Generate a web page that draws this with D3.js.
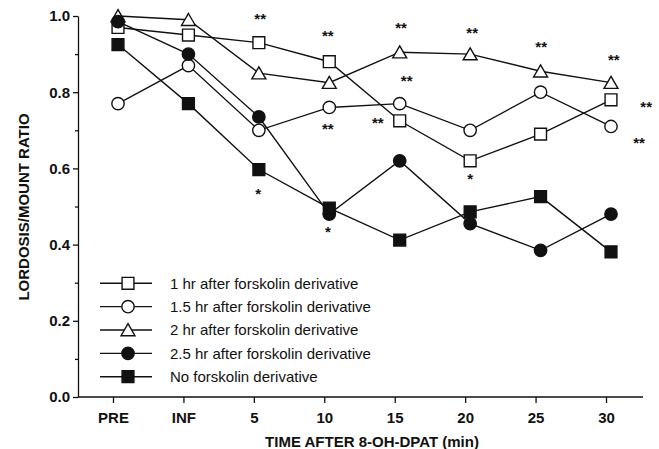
<!DOCTYPE html>
<html>
<head>
<meta charset="utf-8">
<script src="https://cdn.jsdelivr.net/npm/d3@7"></script>
<style>
  body { margin: 0; background: #fff; }
  text { font-family: "Liberation Sans", Arial, Helvetica, sans-serif; fill: #111; }
</style>
</head>
<body>
<div id="container"></div>
<script>
// ******* Data *******
var categories = ["PRE", "INF", "5", "10", "15", "20", "25", "30"];
var oneHr = [0.97, 0.95, 0.93, 0.88, 0.725, 0.62, 0.69, 0.78];
var oneHalfHr = [0.77, 0.87, 0.70, 0.76, 0.77, 0.70, 0.80, 0.71];
var twoHr = [1.0, 0.99, 0.85, 0.825, 0.905, 0.90, 0.855, 0.825];
var twoHalfHr = [0.985, 0.90, 0.735, 0.48, 0.62, 0.455, 0.385, 0.48];
var noForskolin = [0.925, 0.77, 0.597, 0.496, 0.412, 0.486, 0.526, 0.381];
var seriesNames = ["1 hr after forskolin derivative", "1.5 hr after forskolin derivative",
  "2 hr after forskolin derivative", "2.5 hr after forskolin derivative", "No forskolin derivative"];
var yTicks = [0, 0.2, 0.4, 0.6, 0.8, 1.0];
var yMinorTicks = [0.1, 0.3, 0.5, 0.7, 0.9];
// significance marks: position in category index units, value units
var starX = [2.09, 3.05, 3.05, 2.06, 3.05, 4.09, 4.17, 3.76, 5.10, 5.07, 6.08, 7.11, 7.57, 7.47];
var starY = [1.003, 0.958, 0.714, 0.543, 0.444, 0.979, 0.84, 0.73, 0.966, 0.583, 0.929, 0.895, 0.772, 0.677];
var starText = ["**", "**", "**", "*", "*", "**", "**", "**", "**", "*", "**", "**", "**", "**"];

var allSeries = [oneHr, oneHalfHr, twoHr, twoHalfHr, noForskolin];
var shapes = ["square", "circle", "triangle", "circle", "square"];
var fills = ["#fff", "#fff", "#fff", "#111", "#111"];

var width = 659, height = 449;
var markerShift = 5; // markers sit a little right of the ticks in the original

var svg = d3.select("#container").append("svg")
  .attr("width", width)
  .attr("height", height);

var x = d3.scalePoint().domain(categories).range([113, 606]);
var xi = d3.scaleLinear().domain([0, categories.length - 1]).range([113, 606]);
var y = d3.scaleLinear().domain([0, 1]).range([397, 16]);

// triangle centred on its bounding box
var triangleType = {
  draw: function(ctx, size) {
    var s = Math.sqrt(size);
    ctx.moveTo(0, -s * 0.5);
    ctx.lineTo(s * 0.55, s * 0.45);
    ctx.lineTo(-s * 0.55, s * 0.45);
    ctx.closePath();
  }
};
function symbolFor(shape) {
  if (shape == "square") return d3.symbol().type(d3.symbolSquare).size(140)();
  if (shape == "circle") return d3.symbol().type(d3.symbolCircle).size(120)();
  return d3.symbol().type(triangleType).size(160)();
}

// ******* Axes *******
var yAxis = svg.append("g")
  .attr("transform", "translate(78,0)")
  .call(d3.axisLeft(y).tickValues(yTicks).tickFormat(d3.format(".1f")).tickSize(5).tickSizeOuter(0).tickPadding(3));
svg.append("g")
  .attr("transform", "translate(78,0)")
  .call(d3.axisLeft(y).tickValues(yMinorTicks).tickFormat("").tickSize(3).tickSizeOuter(0))
  .select(".domain").remove();

var xAxis = svg.append("g")
  .attr("transform", "translate(0,397)")
  .call(d3.axisBottom(x).tickSize(6).tickSizeOuter(0).tickPadding(9));
xAxis.select(".domain").remove();
svg.append("line")
  .attr("x1", 78).attr("x2", 643)
  .attr("y1", y(0)).attr("y2", y(0))
  .attr("stroke", "#111").attr("stroke-width", 1.3);

svg.selectAll(".tick text")
  .style("font-size", "15px")
  .style("font-weight", "bold")
  .attr("fill", "#111");
svg.selectAll(".tick line, .domain").attr("stroke", "#111").attr("stroke-width", 1.3);

// axis titles
svg.append("text")
  .attr("x", 372).attr("y", 447)
  .attr("text-anchor", "middle")
  .style("font-size", "15px").style("font-weight", "bold")
  .text("TIME AFTER 8-OH-DPAT (min)");
svg.append("text")
  .attr("transform", "translate(28.5,207)rotate(-90)")
  .attr("text-anchor", "middle")
  .style("font-size", "15px").style("font-weight", "bold")
  .text("LORDOSIS/MOUNT RATIO");

// ******* Lines and markers *******
var line = d3.line()
  .x(function(d, i) { return x(categories[i]) + markerShift; })
  .y(function(d) { return y(d); });

allSeries.forEach(function(values) {
  svg.append("path")
    .datum(values)
    .attr("d", line)
    .attr("fill", "none")
    .attr("stroke", "#111")
    .attr("stroke-width", 1.4);
});

allSeries.forEach(function(values, s) {
  svg.append("g").selectAll("path")
    .data(values)
    .enter().append("path")
    .attr("d", symbolFor(shapes[s]))
    .attr("transform", function(d, i) { return "translate(" + (x(categories[i]) + markerShift) + "," + y(d) + ")"; })
    .attr("fill", fills[s])
    .attr("stroke", "#111")
    .attr("stroke-width", 1.4);
});

// significance asterisks
svg.append("g").selectAll("text")
  .data(starText)
  .enter().append("text")
  .attr("x", function(d, i) { return xi(starX[i]); })
  .attr("y", function(d, i) { return y(starY[i]); })
  .attr("dy", "0.6em")
  .attr("text-anchor", "middle")
  .style("font-size", "15px")
  .style("font-weight", "bold")
  .text(function(d) { return d; });

// ******* Legend *******
var legend = svg.append("g").selectAll("g")
  .data(seriesNames)
  .enter().append("g")
  .attr("transform", function(d, i) { return "translate(0," + (283.3 + i * 23.35) + ")"; });
legend.append("line")
  .attr("x1", 100).attr("x2", 152)
  .attr("stroke", "#111").attr("stroke-width", 1.4);
legend.append("path")
  .attr("d", function(d, i) { return symbolFor(shapes[i]); })
  .attr("transform", "translate(128,0)")
  .attr("fill", function(d, i) { return fills[i]; })
  .attr("stroke", "#111").attr("stroke-width", 1.4);
legend.append("text")
  .attr("x", 170).attr("y", 5.4)
  .style("font-size", "15px")
  .text(function(d) { return d; });
</script>
</body>
</html>
